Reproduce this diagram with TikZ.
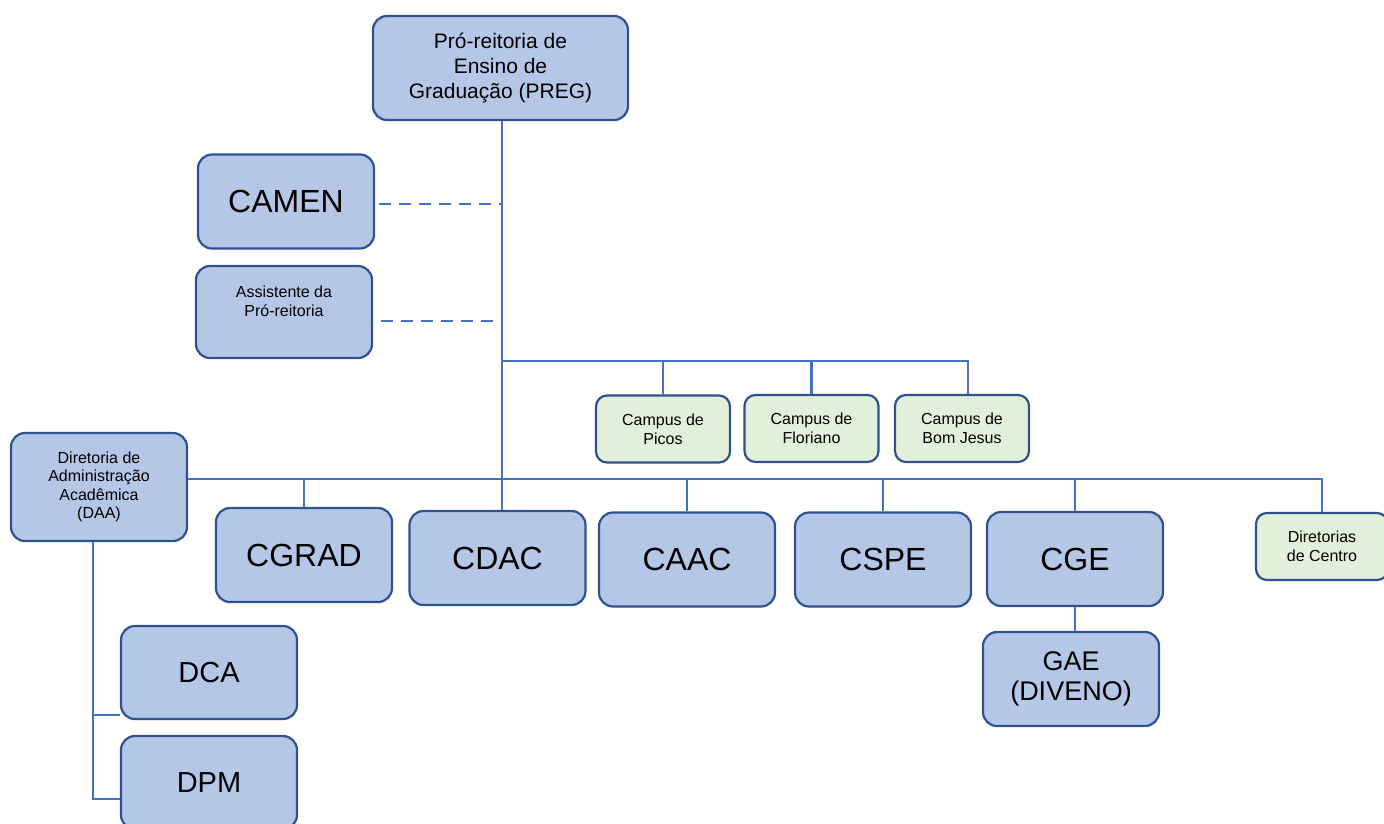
\documentclass[tikz,border=0pt]{standalone}
\usepackage{fontspec}
\setmainfont{Liberation Sans}
\usetikzlibrary{calc}
\usetikzlibrary{positioning}

\definecolor{boxblue}{HTML}{B4C7E7}
\definecolor{boxgreen}{HTML}{E2F0D9}
\definecolor{edgeblue}{HTML}{2F528F}
\definecolor{lineblue}{HTML}{4472C4}

\begin{document}
\begin{tikzpicture}[x=1pt, y=-1pt,
  unit/.style={draw=edgeblue, line width=2.2pt, rounded corners=14pt, fill=boxblue, align=center, inner sep=2pt},
  campus/.style={unit, fill=boxgreen, minimum width=134pt, minimum height=67pt, rounded corners=11pt, font=\fontsize{16}{19}\selectfont},
  large/.style={unit, minimum width=176pt, minimum height=94pt, font=\fontsize{32}{36}\selectfont},
  link/.style={draw=lineblue, line width=2.8pt},
  dashlink/.style={link, dash pattern=on 12pt off 8pt}]

  % Fix the page to the reference size
  \useasboundingbox (0,0) rectangle (1384,823);

  % Junctions of the connector lines
  \coordinate (spine) at (502,361);
  \coordinate (rowbus) at (502,479);
  \coordinate (daafoot) at (93,799);
  \coordinate (dcajoin) at (93,715);

  % Top unit and its advisory boxes
  \node (preg) [unit, minimum width=255pt, minimum height=104pt, font=\fontsize{21}{25}\selectfont] at (500.5,68) {Pró-reitoria de\\Ensino de\\Graduação (PREG)};
  \node (camen) [large] at (286,201.5) {CAMEN};
  \node (assist) [unit, minimum width=176pt, minimum height=92pt, font=\fontsize{16}{19}\selectfont, text depth=22pt] at (284,312) {Assistente da\\Pró-reitoria};

  % Campus boxes
  \node (picos) [campus] at (663,429) {Campus de\\Picos};
  \node (floriano) [campus] at (811.5,428.5) {Campus de\\Floriano};
  \node (bomjesus) [campus] at (962,428.5) {Campus de\\Bom Jesus};

  % Directorate and coordination row
  \node (daa) [unit, minimum width=176pt, minimum height=108pt, font=\fontsize{16}{18.5}\selectfont] at (99,487) {Diretoria de\\Administração\\Acadêmica\\(DAA)};
  \node (cgrad) [large] at (304,555) {CGRAD};
  \node (cdac) [large] at (497.5,558) {CDAC};
  \node (caac) [large] at (687,559.5) {CAAC};
  \node (cspe) [large] at (883,559.5) {CSPE};
  \node (cge) [large] at (1075,559) {CGE};
  \node (centro) [campus, minimum width=132pt] at (1322,546.5) {Diretorias\\de Centro};

  % Lower units
  \node (gae) [large, font=\fontsize{27}{30}\selectfont] at (1071,679) {GAE\\(DIVENO)};
  \node (dca) [large, minimum height=93pt, font=\fontsize{29}{32}\selectfont] at (209,672.5) {DCA};
  \node (dpm) [large, minimum height=93pt, font=\fontsize{29}{32}\selectfont] at (209,782.5) {DPM};

  % Main spine
  \draw[link] (preg.south -| spine) -- (spine |- cdac.north);

  % Dashed links to the advisory boxes
  \coordinate (camentap) at ($(camen.east)+(4,2.5)$);
  \coordinate (assisttap) at ($(assist.east)+(8,9)$);
  \draw[dashlink] (camentap) -- (camentap -| spine);
  \draw[dashlink] (assisttap) -- (assisttap -| spine);

  % Campus branch
  \draw[link] (spine) -| ($(bomjesus.north)+(6,0)$);
  \draw[link] (picos.north) -- (picos.north |- spine);
  \draw[link] (floriano.north) -- (floriano.north |- spine);

  % Row branch
  \draw[link] (daa.east |- rowbus) -| (centro.north);
  \draw[link] (cgrad.north) -- (cgrad.north |- rowbus);
  \draw[link] (caac.north) -- (caac.north |- rowbus);
  \draw[link] (cspe.north) -- (cspe.north |- rowbus);
  \draw[link] (cge.north) -- (cge.north |- rowbus);
  \draw[link] (cge.south) -- (cge.south |- gae.north);

  % DAA branch
  \draw[link] (daa.south -| daafoot) -- (daafoot) -- (daafoot -| dpm.west);
  \draw[link] (dcajoin) -- (dcajoin -| dca.west);

\end{tikzpicture}
\end{document}
